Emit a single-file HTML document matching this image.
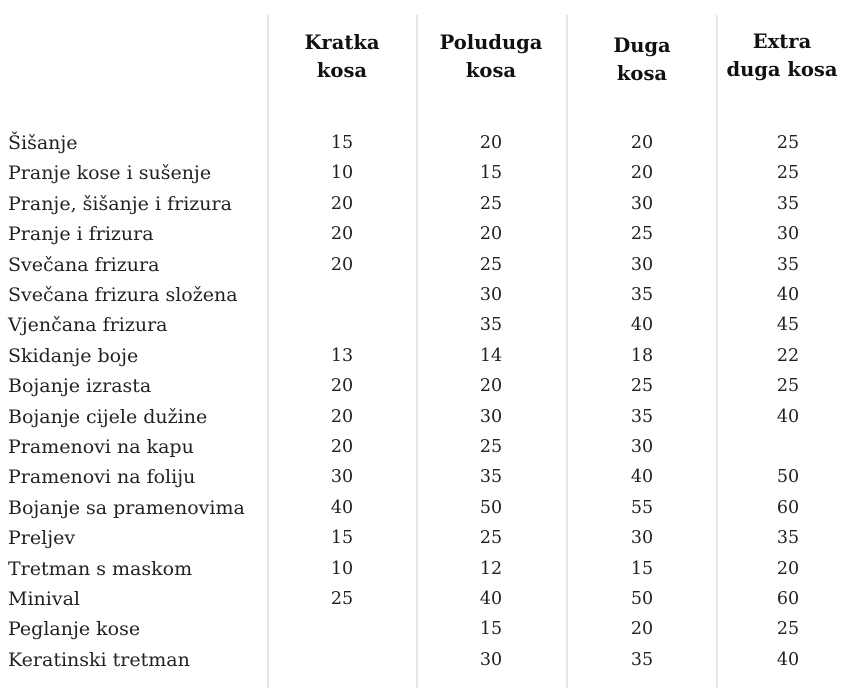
<!DOCTYPE html>
<html><head><meta charset="utf-8"><style>
body{margin:0;width:851px;height:688px;background:#fff;position:relative;overflow:hidden;font-family:"DejaVu Serif",serif;color:#222;font-size:19px}
.v{position:absolute;top:15px;height:673px;width:2px;background:#efe2e2}
.h{position:absolute;font-weight:bold;text-align:center;width:150px;line-height:28px;font-size:19.5px;color:#111}
.r{position:absolute;left:0;width:851px;height:30px;line-height:30px}
.r span{position:absolute;top:0}
.r .l{left:8px}
.r .c{width:100px;text-align:center;font-size:17.5px}
</style></head><body>
<div class="v" style="left:267px"></div>
<div class="v" style="left:416px"></div>
<div class="v" style="left:566px"></div>
<div class="v" style="left:716px"></div>
<div class="h" style="left:267px;top:29px">Kratka<br>kosa</div>
<div class="h" style="left:416px;top:29px">Poluduga<br>kosa</div>
<div class="h" style="left:567px;top:32px">Duga<br>kosa</div>
<div class="h" style="left:707px;top:28px">Extra<br>duga kosa</div>
<div id="rows"></div>
<script>
const d=[["Šišanje","15","20","20","25"],["Pranje kose i sušenje","10","15","20","25"],["Pranje, šišanje i frizura","20","25","30","35"],["Pranje i frizura","20","20","25","30"],["Svečana frizura","20","25","30","35"],["Svečana frizura složena","","30","35","40"],["Vjenčana frizura","","35","40","45"],["Skidanje boje","13","14","18","22"],["Bojanje izrasta","20","20","25","25"],["Bojanje cijele dužine","20","30","35","40"],["Pramenovi na kapu","20","25","30",""],["Pramenovi na foliju","30","35","40","50"],["Bojanje sa pramenovima","40","50","55","60"],["Preljev","15","25","30","35"],["Tretman s maskom","10","12","15","20"],["Minival","25","40","50","60"],["Peglanje kose","","15","20","25"],["Keratinski tretman","","30","35","40"]];
const cx=[342,491,642,788];let h="";
d.forEach((r,i)=>{h+=`<div class="r" style="top:${128+i*30.4}px"><span class="l">${r[0]}</span>`;
for(let j=0;j<4;j++)h+=`<span class="c" style="left:${cx[j]-50}px">${r[j+1]}</span>`;h+="</div>";});
document.getElementById("rows").innerHTML=h;
</script>
</body></html>
